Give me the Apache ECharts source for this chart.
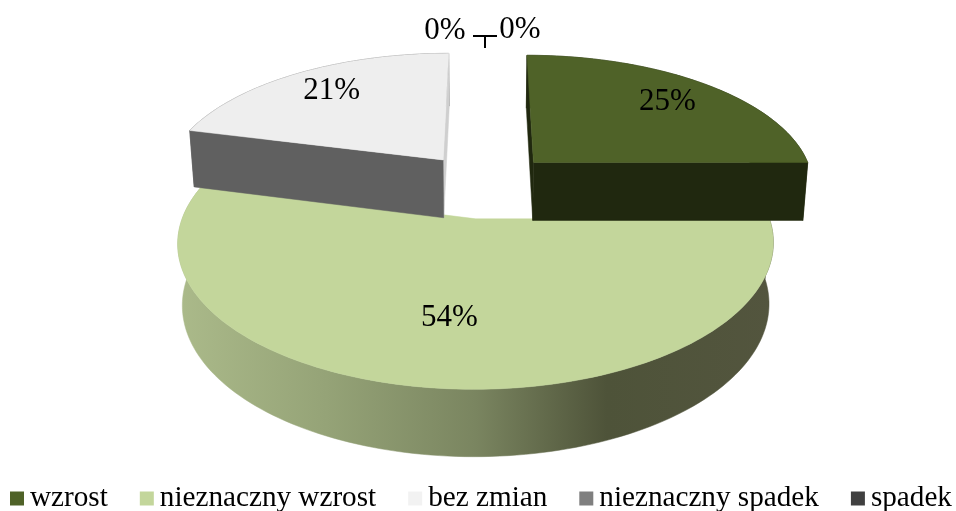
<!DOCTYPE html>
<html>
<head>
<meta charset="utf-8">
<style>html,body{margin:0;padding:0;background:#fff}#c{width:956px;height:511px}</style>
<script src="https://cdn.jsdelivr.net/npm/echarts@6/dist/echarts.min.js"></script>
</head>
<body>
<div id="c"></div>
<script>
const categories = ['wzrost', 'nieznaczny wzrost', 'bez zmian', 'nieznaczny spadek', 'spadek'];
const values = [25, 54, 21, 0, 0];
const topColors = ['#4f6228', '#c3d69b', '#eeeeee', '#7f7f7f', '#404040'];
const legendColors = ['#4f6228', '#c3d69b', '#f2f2f2', '#7f7f7f', '#404040'];
const wallColors = ['#20280f', null, '#606060', '#555555', '#333333'];
const drawOrder = [1, 0, 2, 3, 4];

const view = { cx: 485, cy: 185, f: 282, g: 131, k: 0.16, depth: 59, kDepth: 0.1, taper: 0.015, explode: 0.25 };
const labelRadius = [0.77, 0.62, 0.75];
const labelShiftY = [2, 2, -2];
const zeroLabels = {
  3: { x: 445, y: 31, line: [[485, 36], [473, 36]] },
  4: { x: 520, y: 30, line: [[485, 36], [497, 36]] }
};
const FONT = '"Liberation Serif","Times New Roman",serif';

const total = values.reduce((a, b) => a + b, 0);
function sliceAngles(i) {
  let s = 0;
  for (let j = 0; j < i; j++) s += values[j];
  return [s / total * 2 * Math.PI, (s + values[i]) / total * 2 * Math.PI];
}
function project(u, v, z) {
  const s = 1 / (1 - view.k * v);
  const sz = 1 / (1 - view.kDepth * v);
  const shrink = 1 - view.taper * z;
  return [view.cx + view.f * u * s * shrink, view.cy + view.g * v * s + z * view.depth * sz];
}
function renderSlice(i) {
  const [a0, a1] = sliceAngles(i);
  const children = [];
  if (values[i] === 0) {
    const zl = zeroLabels[i];
    if (i === 3) {
      children.push({ type: 'line', shape: { x1: 485, y1: 36, x2: 485, y2: 48 }, style: { stroke: '#000', lineWidth: 2 } });
    }
    children.push({ type: 'line', shape: { x1: zl.line[0][0], y1: zl.line[0][1], x2: zl.line[1][0], y2: zl.line[1][1] }, style: { stroke: '#000', lineWidth: 2 } });
    children.push({ type: 'text', style: { text: '0%', x: zl.x, y: zl.y, align: 'center', verticalAlign: 'middle', font: '31px ' + FONT, fill: '#000' } });
    return { type: 'group', children };
  }
  const m = (a0 + a1) / 2;
  const ou = view.explode * Math.sin(m), ov = -view.explode * Math.cos(m);
  const pt = (a, r, z) => project(ou + r * Math.sin(a), ov - r * Math.cos(a), z);
  const arc = (z, rev) => {
    const pts = [];
    const n = Math.max(8, Math.round((a1 - a0) * 40));
    for (let t = 0; t <= n; t++) {
      const q = rev ? 1 - t / n : t / n;
      pts.push(pt(a0 + (a1 - a0) * q, 1, z));
    }
    return pts;
  };
  const poly = (points, fill) => ({ type: 'polygon', shape: { points }, style: { fill, stroke: fill, lineWidth: 0.5 } });
  const wall = wallColors[i];
  const wallFill = wall || new echarts.graphic.LinearGradient(0, 0, 1, 0, [
    { offset: 0, color: '#abba8a' },
    { offset: 0.25, color: '#95a377' },
    { offset: 0.5, color: '#7a8560' },
    { offset: 0.72, color: '#4e5339' },
    { offset: 1, color: '#53553e' }
  ]);
  const a0Face = [pt(a0, 0, 0), pt(a0, 1, 0), pt(a0, 1, 1), pt(a0, 0, 1)];
  const a1Face = [pt(a1, 0, 0), pt(a1, 1, 0), pt(a1, 1, 1), pt(a1, 0, 1)];
  children.push(poly(arc(0, false).concat(arc(1, true)), wallFill));
  if (i === 0) {
    children.push(poly(a0Face, wall));
    children.push(poly(a1Face, wall));
  } else if (i === 2) {
    children.push(poly(a1Face, '#cfcfcf'));
    children.push(poly(a0Face, wall));
  }
  children.push(poly([pt(a0, 0, 0)].concat(arc(0, false)), topColors[i]));
  const lp = pt(m, labelRadius[i], 0);
  children.push({ type: 'text', z2: 50, style: { text: values[i] + '%', x: lp[0], y: lp[1] + labelShiftY[i], align: 'center', verticalAlign: 'middle', font: '31px ' + FONT, fill: '#000' } });
  return { type: 'group', children };
}

const chart = echarts.init(document.getElementById('c'));
chart.setOption({
  animation: false,
  backgroundColor: '#fff',
  legend: {
    left: 10, top: 484, padding: 0, icon: 'rect', itemWidth: 14, itemHeight: 14, itemGap: 32,
    selectedMode: false,
    data: categories,
    textStyle: { fontFamily: FONT, fontSize: 29.2, color: '#000', padding: [0, 0, 0, 1] }
  },
  series: drawOrder.map((i, o) => ({
    type: 'custom',
    name: categories[i],
    coordinateSystem: 'none',
    silent: true,
    z: 2 + o,
    itemStyle: { color: legendColors[i] },
    data: [values[i]],
    renderItem: () => renderSlice(i)
  }))
});
</script>
</body>
</html>
